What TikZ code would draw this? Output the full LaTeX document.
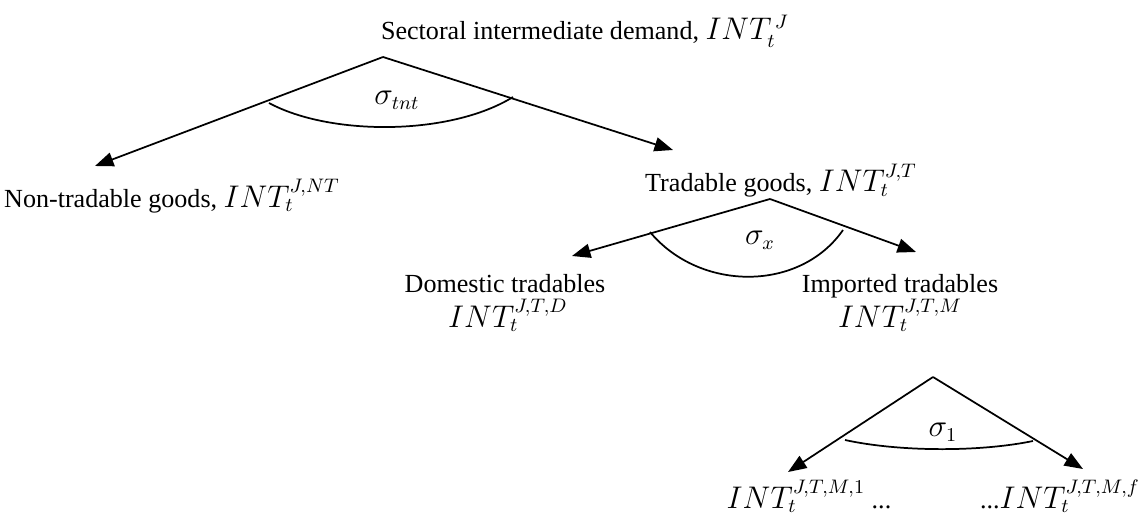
\documentclass[tikz,border=0pt]{standalone}
\usepackage{fontspec}
\setmainfont{Liberation Serif}
\usetikzlibrary{arrows.meta,positioning}

% slightly larger math, as in the text of the figure
\newcommand{\mth}[1]{{\fontsize{13.5}{16}\selectfont$#1$}}

\begin{document}
\begin{tikzpicture}[x=0.46pt,y=-0.46pt,every node/.style={inner sep=0pt,anchor=base}]

% Define styles
\tikzstyle{branch} = [draw, line width=0.8pt, -{Triangle[length=8.5pt,width=6.5pt]}]
\tikzstyle{nest} = [draw, line width=0.8pt]
\tikzstyle{lbl} = [font=\fontsize{12}{14}\selectfont]
\tikzstyle{elas} = [lbl, anchor=center]

\useasboundingbox (0,0) rectangle (1145,525);

% top level
\node [lbl] (sect) at (585,40) {Sectoral intermediate demand, \mth{INT_t^{\,J}}};
\coordinate (sectapex) at (383,57);
\coordinate (ntend) at (95,166);
\coordinate (tend) at (673,150);

\node [lbl] (nontrad) at (172,207) {Non-tradable goods, \mth{INT_t^{J,NT}}};
\node [lbl] (trad) at (781,192) {Tradable goods, \mth{INT_t^{J,T}}};

\draw[branch] (sectapex) -- (ntend);
\draw[branch] (sectapex) -- (tend);
\draw[nest] (269,103) .. controls (330,136) and (450,136) .. (513,97);
\node [elas] (stnt) at (397,100) {\mth{\sigma_{tnt}}};

% tradables split
\coordinate (tradapex) at (770,199);
\coordinate (dend) at (572,256);
\coordinate (mend) at (916,252);

\node [lbl] (dom) at (505,292) {Domestic tradables};
\node [lbl] (domint) at (508,327) {\mth{INT_t^{J,T,D}}};
\node [lbl] (imp) at (900,292) {Imported tradables};
\node [lbl] (impint) at (900,327) {\mth{INT_t^{J,T,M}}};

\draw[branch] (tradapex) -- (dend);
\draw[branch] (tradapex) -- (mend);
\draw[nest] (650,232) .. controls (700,292) and (800,292) .. (843,230);
\node [elas] (sx) at (760,240) {\mth{\sigma_x}};

% imports by origin
\coordinate (impapex) at (933,377);
\coordinate (firstend) at (788,472);
\coordinate (lastend) at (1083,469);

\node [lbl] (first) at (809,508) {\mth{INT_t^{J,T,M,1}} ...};
\node [lbl] (last) at (1060,508) {...\mth{INT_t^{J,T,M,f}}};

\draw[branch] (impapex) -- (firstend);
\draw[branch] (impapex) -- (lastend);
\draw[nest] (845,440) .. controls (900,452) and (980,452) .. (1033,441);
\node [elas] (sone) at (943,432) {\mth{\sigma_1}};

\end{tikzpicture}
\end{document}
